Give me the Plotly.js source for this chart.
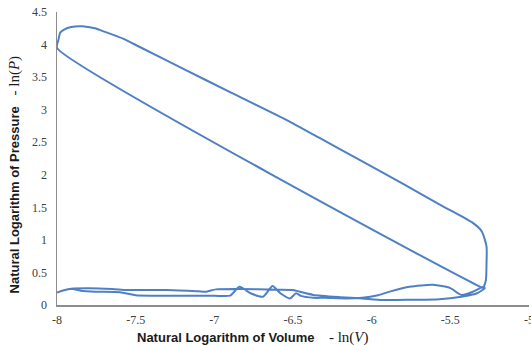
<!DOCTYPE html>
<html>
<head>
<meta charset="utf-8">
<script src="https://cdn.plot.ly/plotly-3.0.1.min.js"></script>
<style>html,body{margin:0;padding:0;background:#fff;}#chart{width:531px;height:345px;}</style>
</head>
<body>
<div id="chart"></div>
<script>
// Natural log of volume (x) and natural log of pressure (y), traced around the cycle
const upperLnV = [-8.00, -7.99, -7.98, -7.955, -7.91, -7.84, -7.76, -7.69, -7.58, -7.48, -7.20, -6.90, -6.54, -6.331, -6.10, -5.80, -5.55, -5.355, -5.30, -5.27, -5.27, -5.274, -5.29];
const upperLnP = [3.95, 4.08, 4.18, 4.23, 4.27, 4.28, 4.25, 4.19, 4.09, 3.97, 3.63, 3.27, 2.84, 2.565, 2.26, 1.86, 1.52, 1.257, 1.13, 0.90, 0.64, 0.38, 0.26];

const returnLnV = [-5.29, -5.355, -5.43, -5.50, -5.61, -5.76, -5.885, -5.96, -6.06, -6.16, -6.30, -6.37, -6.45, -6.48, -6.52, -6.58, -6.63, -6.69, -6.77, -6.84, -6.90, -7.00, -7.20, -7.40, -7.50, -7.60, -7.75, -7.85, -7.91, -7.95, -8.00];
const returnLnP = [0.28, 0.205, 0.154, 0.26, 0.31, 0.28, 0.205, 0.15, 0.11, 0.10, 0.11, 0.11, 0.14, 0.18, 0.10, 0.18, 0.29, 0.128, 0.18, 0.28, 0.143, 0.143, 0.143, 0.143, 0.15, 0.195, 0.205, 0.22, 0.25, 0.23, 0.19];

const lowerLnV = [-8.00, -7.95, -7.91, -7.80, -7.65, -7.55, -7.30, -7.10, -7.05, -6.99, -6.84, -6.60, -6.50, -6.45, -6.37, -6.20, -6.06, -5.93, -5.75, -5.57, -5.43, -5.33, -5.28];
const lowerLnP = [0.19, 0.23, 0.25, 0.256, 0.245, 0.23, 0.23, 0.21, 0.205, 0.24, 0.246, 0.235, 0.23, 0.20, 0.154, 0.12, 0.10, 0.077, 0.08, 0.088, 0.128, 0.18, 0.26];

const closeLnV = [-5.29, -8.00];
const closeLnP = [0.26, 3.95];

const xTickVals = [-8, -7.5, -7, -6.5, -6, -5.5, -5];
const xTickText = ['-8', '-7.5', '-7', '-6.5', '-6', '-5.5', '-5'];
const yTickVals = [0, 0.5, 1, 1.5, 2, 2.5, 3, 3.5, 4, 4.5];
const yTickText = ['0', '0.5', '1', '1.5', '2', '2.5', '3', '3.5', '4', '4.5'];

const lnV = upperLnV.concat(returnLnV, lowerLnV, closeLnV);
const lnP = upperLnP.concat(returnLnP, lowerLnP, closeLnP);

const trace = {
  x: lnV, y: lnP, type: 'scatter', mode: 'lines',
  line: {color: '#5080c4', width: 2, shape: 'spline', smoothing: 0.6},
  hoverinfo: 'skip', showlegend: false
};

const serif = 'Liberation Serif';
const sans = 'Liberation Sans';

const layout = {
  width: 531, height: 345,
  margin: {l: 57, r: 2, t: 12, b: 40, pad: 0},
  paper_bgcolor: '#ffffff', plot_bgcolor: '#ffffff',
  font: {family: serif, size: 12, color: '#404040'},
  showlegend: false,
  xaxis: {
    range: [-8, -5], tickvals: xTickVals, ticktext: xTickText,
    showgrid: false, zeroline: false, showline: true, linecolor: '#8c8c8c', linewidth: 1.5,
    ticks: '', ticklabelstandoff: 3, ticklabeloverflow: 'allow',
    tickfont: {family: serif, size: 12, color: '#404040'}
  },
  yaxis: {
    range: [0, 4.5], tickvals: yTickVals, ticktext: yTickText,
    showgrid: false, zeroline: false, showline: true, linecolor: '#8c8c8c', linewidth: 1.5,
    ticks: '', ticklabelstandoff: 6, ticklabeloverflow: 'allow',
    tickfont: {family: serif, size: 12, color: '#404040'}
  },
  annotations: [
    {
      xref: 'paper', yref: 'paper', x: 0.415, y: -0.11, xanchor: 'center', yanchor: 'middle',
      showarrow: false,
      text: '<b>Natural Logarithm of Volume</b>    <span style="font-family:Liberation Serif;font-size:15px">- ln(<i>V</i>)</span>',
      font: {family: sans, size: 13, color: '#1a1a1a'}
    },
    {
      xref: 'paper', yref: 'paper', x: -0.09, y: 0.444, xanchor: 'center', yanchor: 'middle',
      showarrow: false, textangle: -90,
      text: '<b>Natural Logarithm of Pressure</b>   <span style="font-family:Liberation Serif;font-size:15px">- ln(<i>P</i>)</span>',
      font: {family: sans, size: 13, color: '#1a1a1a'}
    }
  ]
};

Plotly.newPlot('chart', [trace], layout, {displayModeBar: false, staticPlot: true});
</script>
</body>
</html>
